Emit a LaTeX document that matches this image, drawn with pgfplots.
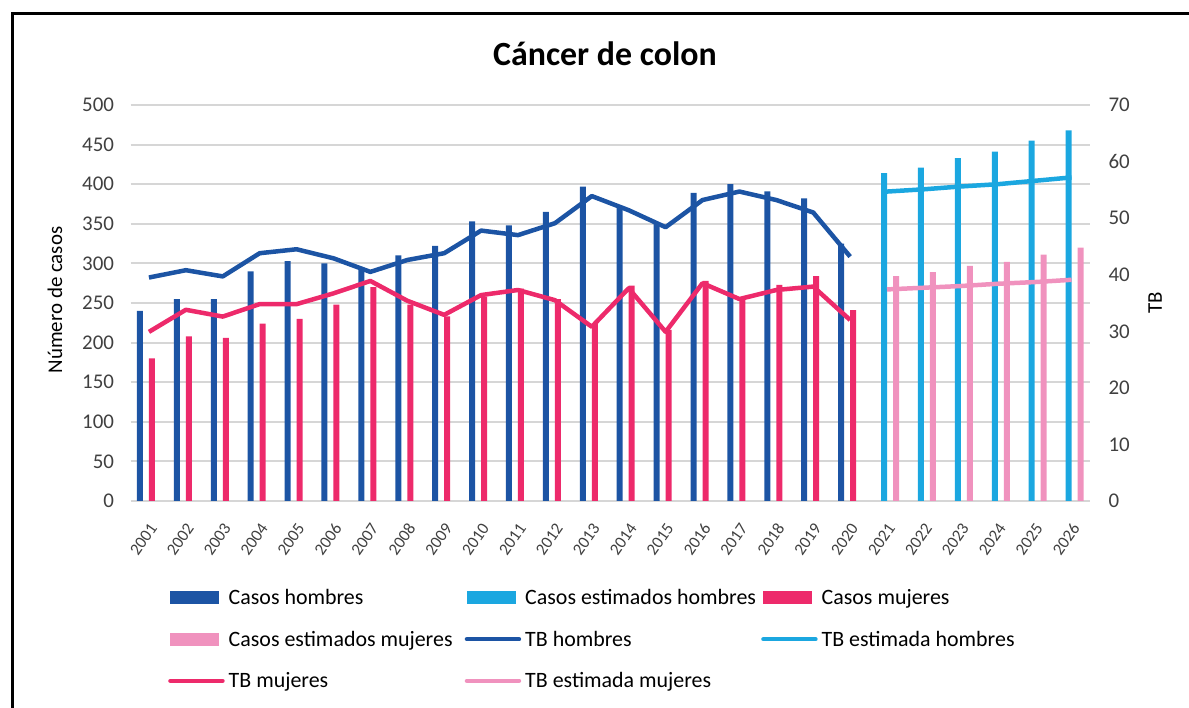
\documentclass[border=0pt]{standalone}
\usepackage{fontspec}
\setmainfont{Carlito}
\usepackage{pgfplots}
\pgfplotsset{compat=1.18}
\definecolor{cblue}{RGB}{28,84,164}
\definecolor{clblue}{RGB}{27,167,224}
\definecolor{cred}{RGB}{237,42,107}
\definecolor{cpink}{RGB}{240,146,190}
\definecolor{cgrid}{RGB}{214,214,214}
\definecolor{ctext}{RGB}{64,64,64}
\begin{document}
\begin{tikzpicture}
\path[use as bounding box] (0,0) rectangle (1189bp,708bp);
\draw[line width=3bp] (12bp,0) -- (12bp,694bp) -- (1189bp,694bp);
\pgfplotsset{
  common/.style={
    at={(130.5bp,207bp)}, anchor=south west,
    scale only axis, width=959.5bp, height=396bp,
    xmin=-0.5, xmax=25.5, ymin=0,
    axis line style={draw=none},
    major tick length=0pt,
    tick style={draw=none},
    /pgf/number format/assume math mode=true,
    tick label style={font=\fontsize{21}{24}\selectfont, text=ctext},
    label style={font=\fontsize{21}{24}\selectfont},
  }
}
\begin{axis}[common,
  ymax=500, ytick={0,50,...,500},
  ymajorgrids, grid style={cgrid, line width=2bp},
  xtick={0,...,25},
  xticklabels={2001,2002,2003,2004,2005,2006,2007,2008,2009,2010,2011,2012,2013,2014,2015,2016,2017,2018,2019,2020,2021,2022,2023,2024,2025,2026},
  x tick label style={xshift=5bp, yshift=-23bp, rotate=55, anchor=east, inner sep=1bp, font=\fontsize{17}{19}\selectfont},
  yticklabel style={xshift=-13bp},
  ylabel={Número de casos},
  ylabel style={at={(axis description cs:-0.0787,0.5076)}, anchor=center, rotate=0},
  title={Cáncer de colon},
  title style={at={(axis description cs:0.4945,1)}, anchor=center, yshift=45bp, font=\bfseries\fontsize{34}{38}\selectfont},
  ybar, bar width=6bp,
]
\addplot[draw=none, fill=cblue, bar shift=-9bp] coordinates {
(0,240) (1,255) (2,255) (3,290) (4,303) (5,300) (6,293) (7,310) (8,322) (9,353)
(10,348) (11,365) (12,397) (13,372) (14,352) (15,389) (16,400) (17,391) (18,382) (19,325)};
\addplot[draw=none, fill=clblue, bar shift=-3bp] coordinates {
(20,414) (21,421) (22,433) (23,441) (24,455) (25,468)};
\addplot[draw=none, fill=cred, bar shift=3bp] coordinates {
(0,180) (1,208) (2,206) (3,224) (4,230) (5,248) (6,270) (7,248) (8,233) (9,258)
(10,268) (11,255) (12,224) (13,272) (14,216) (15,278) (16,255) (17,273) (18,284) (19,241)};
\addplot[draw=none, fill=cpink, bar shift=9bp] coordinates {
(20,284) (21,289) (22,297) (23,302) (24,311) (25,320)};
\end{axis}
\begin{axis}[common,
  ymax=70, ytick={0,10,...,70},
  xtick=\empty,
  yticklabel pos=right,
  yticklabel style={xshift=15bp, anchor=west},
  ylabel={TB},
  ylabel style={at={(axis description cs:1.0678,0.5)}, anchor=center, rotate=0},
  legend style={draw=none, fill=none, at={(axis description cs:0.036,-0.212)}, anchor=north west,
    font=\fontsize{22}{25}\selectfont, legend columns=3,
    /tikz/every odd column/.append style={column sep=2bp},
    row sep=21bp},
  legend cell align=left,
  legend image code/.code={\draw[#1, line cap=round] (0bp,0bp) -- (52bp,0bp);},
]
\addlegendimage{legend image code/.code={\fill[cblue] (0bp,-6bp) rectangle (48bp,6bp);}}
\addlegendentry{\makebox[234bp][l]{Casos hombres}}
\addlegendimage{legend image code/.code={\fill[clblue] (0bp,-6bp) rectangle (48bp,6bp);}}
\addlegendentry{\makebox[234bp][l]{Casos estimados hombres}}
\addlegendimage{legend image code/.code={\fill[cred] (0bp,-6bp) rectangle (48bp,6bp);}}
\addlegendentry{\makebox[234bp][l]{Casos mujeres}}
\addlegendimage{legend image code/.code={\fill[cpink] (0bp,-6bp) rectangle (48bp,6bp);}}
\addlegendentry{\makebox[234bp][l]{Casos estimados mujeres}}
\addplot[cblue, line width=4.5bp, line join=round] coordinates {
(0,39.5) (1,40.8) (2,39.7) (3,43.8) (4,44.5) (5,42.9) (6,40.5) (7,42.6) (8,43.8) (9,47.8)
(10,47.0) (11,49.1) (12,53.9) (13,51.4) (14,48.4) (15,53.2) (16,54.7) (17,53.2) (18,51.0) (19,43.2)};
\addlegendentry{\makebox[234bp][l]{TB hombres}}
\addplot[clblue, line width=4.5bp, line join=round] coordinates {
(20,54.7) (21,55.1) (22,55.6) (23,56.0) (24,56.6) (25,57.2)};
\addlegendentry{\makebox[234bp][l]{TB estimada hombres}}
\addplot[cred, line width=4.5bp, line join=round] coordinates {
(0,29.9) (1,33.8) (2,32.6) (3,34.8) (4,34.8) (5,36.7) (6,38.9) (7,35.4) (8,32.9) (9,36.4)
(10,37.3) (11,35.5) (12,30.8) (13,37.6) (14,29.9) (15,38.5) (16,35.7) (17,37.3) (18,37.9) (19,32.0)};
\addlegendentry{\makebox[234bp][l]{TB mujeres}}
\addplot[cpink, line width=4.5bp, line join=round] coordinates {
(20,37.4) (21,37.7) (22,38.0) (23,38.4) (24,38.7) (25,39.1)};
\addlegendentry{\makebox[234bp][l]{TB estimada mujeres}}
\end{axis}
\end{tikzpicture}
\end{document}
